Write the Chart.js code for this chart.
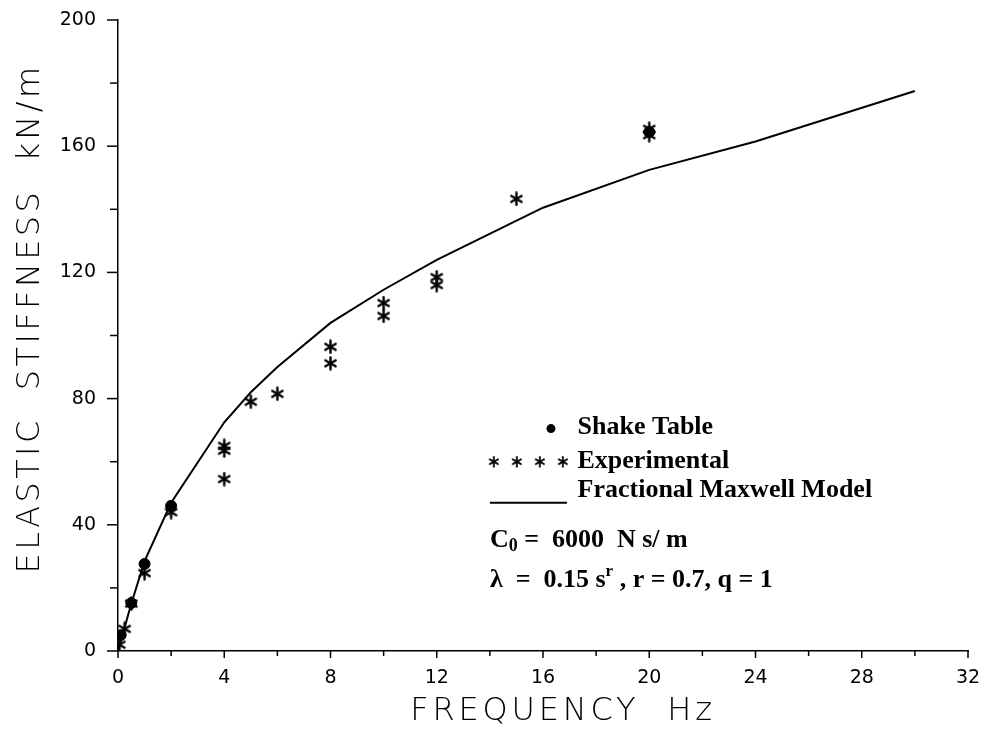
<!DOCTYPE html>
<html>
<head>
<meta charset="utf-8">
<script src="https://cdn.jsdelivr.net/npm/chart.js@4"></script>
<style>
  body { margin: 0; background: #fff; }
  #wrap { width: 987px; height: 731px; }
</style>
</head>
<body>
<div id="wrap"><canvas id="stiff_chart" width="987" height="731"></canvas></div>
<script>
// values
const shakeX = [0.1, 0.5, 1, 2, 20];
const shakeY = [5, 15.2, 27.6, 46, 164.5];

const expX = [0.05, 0.25, 0.5, 1, 2, 4, 4, 4, 5, 6, 8, 8, 10, 10, 12, 12, 15, 20, 20];
const expY = [2, 7, 15, 24.7, 44, 65, 63.5, 54.5, 79, 81.5, 96.4, 91.2, 110.3, 106.2, 118.5, 116, 143.3, 165.5, 163.5];

const modelX = [0, 0.2, 0.5, 1, 2, 4, 5, 6, 8, 10, 12, 16, 20, 24, 30];
const modelY = [0, 6, 15, 28.5, 47, 72.5, 82, 90, 104, 114.5, 124, 140.5, 152.5, 161.5, 177.5];

const xLabelTicks = [0, 4, 8, 12, 16, 20, 24, 28, 32];
const yLabelTicks = [0, 40, 80, 120, 160, 200];

function pts(xs, ys) { return xs.map((x, i) => ({ x: x, y: ys[i] })); }

// six armed asterisk like the plotter symbol
function makeStar(size) {
  const c = document.createElement('canvas');
  c.width = size; c.height = size;
  const g = c.getContext('2d');
  const r = size / 2 - 1.5;
  g.strokeStyle = '#000';
  g.lineWidth = 2.4;
  g.lineCap = 'round';
  g.translate(size / 2, size / 2);
  for (let k = 0; k < 3; k++) {
    const a = Math.PI / 2 + k * Math.PI / 3;
    g.beginPath();
    g.moveTo(Math.cos(a) * r, Math.sin(a) * r);
    g.lineTo(-Math.cos(a) * r, -Math.sin(a) * r);
    g.stroke();
  }
  return c;
}
const starImg = makeStar(15);

// tick marks: long at labelled values, short in between
const tickMarks = {
  id: 'tickMarks',
  afterDraw(chart) {
    const ctx = chart.ctx, xs = chart.scales.x, ys = chart.scales.y;
    const y0 = ys.getPixelForValue(0), x0 = xs.getPixelForValue(0);
    ctx.save();
    ctx.strokeStyle = '#000';
    ctx.lineWidth = 1.5;
    xs.ticks.forEach(t => {
      const px = xs.getPixelForValue(t.value);
      const len = xLabelTicks.includes(t.value) ? 7 : 5;
      ctx.beginPath(); ctx.moveTo(px, y0); ctx.lineTo(px, y0 + len); ctx.stroke();
    });
    ys.ticks.forEach(t => {
      const py = ys.getPixelForValue(t.value);
      const len = yLabelTicks.includes(t.value) ? 11 : 8;
      ctx.beginPath(); ctx.moveTo(x0, py); ctx.lineTo(x0 - len, py); ctx.stroke();
    });
    ctx.restore();
  }
};

// wide letter spacing on the axis titles, as on the plotter lettering
const titleSpacing = {
  id: 'titleSpacing',
  beforeDraw(chart) {
    const opts = { x: { sp: '3.8px', dx: 20, dy: 0 }, y: { sp: '3.4px', dx: 0, dy: -17 } };
    Object.keys(opts).forEach(id => {
      const s = chart.scales[id];
      if (!s || s._spaced) return;
      const orig = s.drawTitle.bind(s);
      s.drawTitle = function () {
        const c = this.ctx;
        c.save();
        c.letterSpacing = opts[id].sp;
        c.translate(opts[id].dx, opts[id].dy);
        orig();
        c.restore();
      };
      s._spaced = true;
    });
  }
};

function drawParts(ctx, parts, x, y) {
  parts.forEach(p => {
    ctx.font = 'bold ' + p.size + 'px "Liberation Serif", "Times New Roman", serif';
    ctx.fillText(p.t, x, y + (p.dy || 0));
    x += ctx.measureText(p.t).width;
  });
}

// legend and model parameters inside the plot
const notes = {
  id: 'notes',
  afterDraw(chart) {
    const ctx = chart.ctx, xs = chart.scales.x, ys = chart.scales.y;
    const symX = xs.getPixelForValue(14.0);
    const txtX = xs.getPixelForValue(17.3);
    ctx.save();
    ctx.fillStyle = '#000';
    ctx.strokeStyle = '#000';
    ctx.textBaseline = 'middle';
    // shake table symbol
    ctx.beginPath();
    ctx.arc(xs.getPixelForValue(16.3), ys.getPixelForValue(70.5), 4.5, 0, Math.PI * 2);
    ctx.fill();
    // experimental symbols
    for (let k = 0; k < 4; k++) {
      const px = symX + 4 + k * 23;
      ctx.drawImage(starImg, px - 6, ys.getPixelForValue(60) - 6, 12, 12);
    }
    // model line
    ctx.lineWidth = 2;
    ctx.beginPath();
    ctx.moveTo(symX, ys.getPixelForValue(47));
    ctx.lineTo(xs.getPixelForValue(16.9), ys.getPixelForValue(47));
    ctx.stroke();
    drawParts(ctx, [{ t: 'Shake Table', size: 26 }], txtX, ys.getPixelForValue(71));
    drawParts(ctx, [{ t: 'Experimental', size: 26 }], txtX, ys.getPixelForValue(60));
    drawParts(ctx, [{ t: 'Fractional Maxwell Model', size: 26 }], txtX, ys.getPixelForValue(51));
    drawParts(ctx, [
      { t: 'C', size: 26 }, { t: '0', size: 18, dy: 6 },
      { t: ' =  6000  N s/ m', size: 26 }
    ], symX, ys.getPixelForValue(35.2));
    drawParts(ctx, [
      { t: 'λ  =  0.15 s', size: 26 }, { t: 'r', size: 17, dy: -8 },
      { t: ' , r = 0.7, q = 1', size: 26 }
    ], symX, ys.getPixelForValue(22.5));
    ctx.restore();
  }
};

const axisFont = { family: '"DejaVu Sans", sans-serif', size: 19 };
const titleFont = { family: '"DejaVu Sans", sans-serif', size: 32, weight: 200, lineHeight: 1.2 };

new Chart(document.getElementById('stiff_chart').getContext('2d'), {
  type: 'scatter',
  data: {
    datasets: [
      { label: 'Fractional Maxwell Model', type: 'line', data: pts(modelX, modelY),
        borderColor: '#000', borderWidth: 2, pointRadius: 0, fill: false, tension: 0 },
      { label: 'Experimental', data: pts(expX, expY),
        pointStyle: starImg, pointRadius: 7 },
      { label: 'Shake Table', data: pts(shakeX, shakeY),
        pointStyle: 'circle', pointRadius: 5.5, backgroundColor: '#000', borderColor: '#000' }
    ]
  },
  options: {
    responsive: false,
    animation: false,
    layout: { padding: { top: 20, right: 19, left: 0, bottom: 0 } },
    plugins: { legend: { display: false }, tooltip: { enabled: false } },
    scales: {
      x: {
        type: 'linear', min: 0, max: 32,
        ticks: { stepSize: 2, color: '#000', font: axisFont, padding: 16, maxRotation: 0,
          callback: v => xLabelTicks.includes(v) ? String(v) : '' },
        grid: { display: false, drawTicks: false },
        border: { display: true, color: '#000', width: 1.5 },
        title: { display: true, text: 'FREQUENCY  Hz', color: '#000', font: titleFont, padding: { top: 0, bottom: 0 } },
        afterFit: s => { s.height = 80; s.paddingLeft = 0; s.paddingRight = 0; }
      },
      y: {
        type: 'linear', min: 0, max: 200,
        ticks: { stepSize: 20, color: '#000', font: axisFont, padding: 22,
          callback: v => yLabelTicks.includes(v) ? String(v) : '' },
        grid: { display: false, drawTicks: false },
        border: { display: true, color: '#000', width: 1.5 },
        title: { display: true, text: 'ELASTIC  STIFFNESS  kN/m', color: '#000', font: titleFont, padding: { top: 11, bottom: 0 } },
        afterFit: s => { s.width = 118; s.paddingTop = 0; s.paddingBottom = 0; }
      }
    }
  },
  plugins: [tickMarks, titleSpacing, notes]
});
</script>
</body>
</html>
